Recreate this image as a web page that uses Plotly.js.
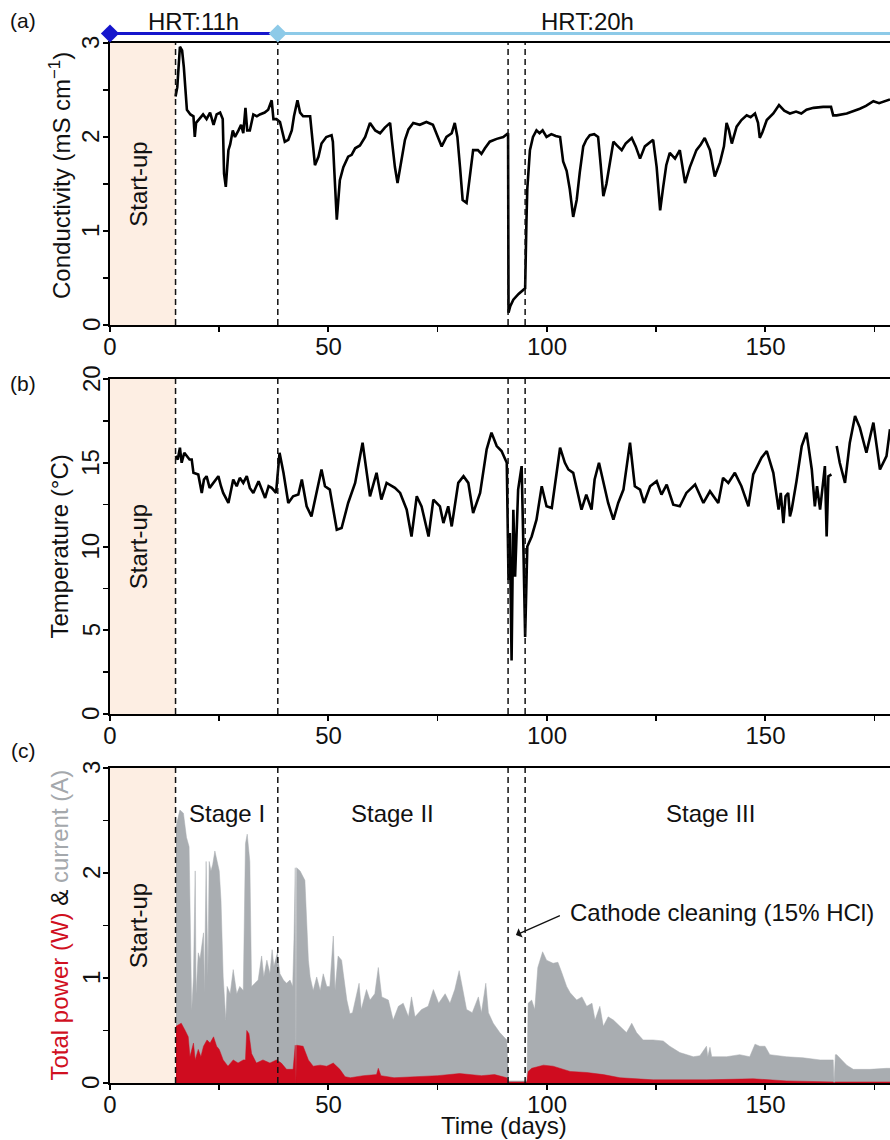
<!DOCTYPE html>
<html>
<head>
<meta charset="utf-8">
<script src="https://cdn.plot.ly/plotly-3.0.1.min.js"></script>
<style>html,body{margin:0;padding:0;background:#fff;overflow:hidden}</style>
</head>
<body>
<div id="chart" style="width:890px;height:1140px"></div>
<script>
// ---------------- DATA ----------------
// (a) Conductivity (mS cm-1)
const condDay = [15.0,15.4,16.0,16.5,16.9,17.6,18.4,19.1,19.4,19.7,20.6,21.3,22.1,22.9,23.7,24.4,25.2,25.8,26.1,26.5,27.1,27.5,28.1,28.6,29.4,30.0,30.5,31.0,31.4,32.0,32.8,33.6,34.3,35.4,36.2,37.0,37.4,38.1,38.9,40.0,40.8,41.6,42.1,42.9,43.5,44.2,45.8,46.4,46.9,47.7,48.4,49.5,50.7,51.0,51.5,51.9,52.6,53.4,54.5,55.3,56.1,57.2,58.4,59.5,60.7,61.8,62.9,64.1,64.5,65.2,65.8,66.7,67.5,68.3,69.4,70.9,72.4,73.9,75.1,75.9,77.0,78.2,78.9,79.5,80.1,80.7,81.6,82.4,83.1,84.2,85.0,85.8,86.9,88.5,90.0,91.1,91.2,91.6,92.3,93.5,95.0,95.3,95.5,96.1,96.8,97.6,98.3,99.0,99.9,101.0,102.0,103.0,103.4,103.7,104.5,105.2,106.0,106.8,107.5,108.3,109.0,109.8,110.8,111.7,112.3,112.9,113.6,114.4,115.2,116.0,117.1,118.0,119.4,120.3,121.3,122.4,123.3,124.3,125.1,125.6,125.9,126.6,127.3,128.1,129.3,130.4,131.0,131.6,132.7,134.2,135.2,136.1,137.3,138.0,138.4,139.6,140.5,141.1,141.6,142.3,143.4,144.5,145.7,146.6,147.6,148.3,148.7,149.3,150.3,151.8,153.1,154.3,155.6,157.0,158.2,159.4,161.0,163.2,165.0,165.5,166.3,168.6,170.0,171.6,173.0,174.7,176.0,178.5];
const condVal = [2.43,2.53,2.96,2.92,2.74,2.29,2.24,2.22,2.00,2.15,2.20,2.24,2.19,2.26,2.13,2.24,2.26,2.19,1.61,1.47,1.86,1.92,2.07,2.00,2.07,2.13,2.04,2.31,2.07,2.07,2.24,2.22,2.24,2.26,2.29,2.39,2.19,2.19,2.16,1.95,1.97,2.07,2.22,2.39,2.26,2.22,2.22,1.95,1.70,1.79,1.93,2.00,2.02,1.95,1.51,1.12,1.54,1.68,1.79,1.81,1.88,1.91,2.00,2.15,2.07,2.04,2.10,2.15,1.97,1.68,1.51,1.76,1.97,2.08,2.15,2.13,2.16,2.13,2.00,1.90,2.00,2.04,2.15,2.00,1.68,1.33,1.30,1.61,1.86,1.86,1.82,1.88,1.95,1.98,2.00,2.04,0.13,0.20,0.27,0.33,0.39,1.10,1.45,1.86,2.00,2.07,2.04,2.07,2.00,2.03,2.01,2.00,1.85,1.74,1.64,1.45,1.15,1.33,1.62,1.90,1.97,2.02,2.03,2.00,1.70,1.37,1.50,1.73,1.95,1.91,1.86,1.93,1.99,1.90,1.77,1.90,1.93,1.97,1.68,1.40,1.22,1.47,1.70,1.83,1.77,1.86,1.70,1.51,1.68,1.86,1.92,1.99,1.86,1.65,1.58,1.73,1.90,2.15,2.08,1.93,2.11,2.18,2.23,2.21,2.25,2.15,1.99,2.05,2.18,2.25,2.34,2.28,2.25,2.27,2.25,2.29,2.31,2.32,2.32,2.23,2.23,2.25,2.27,2.30,2.33,2.38,2.36,2.40];

// (b) Temperature (°C)
const tempDay = [15.0,15.5,16.0,16.4,17.0,17.5,18.2,18.7,19.1,20.2,21.0,21.5,22.1,22.8,23.6,24.2,24.8,25.4,25.9,27.1,28.2,29.0,29.7,30.5,31.3,32.0,32.8,34.0,34.8,35.5,36.3,37.0,38.0,38.8,39.7,40.8,41.9,43.1,43.9,45.0,46.1,46.9,48.4,49.2,50.3,51.9,53.0,54.5,56.1,57.8,58.7,59.5,61.0,62.1,63.3,65.2,66.4,67.9,69.0,70.2,71.3,72.9,74.0,75.5,76.3,77.4,78.2,79.7,80.9,82.0,83.1,84.7,86.2,87.3,88.5,89.6,90.8,91.2,91.5,91.9,92.3,92.7,93.4,94.2,94.6,95.0,95.5,96.5,97.6,98.8,99.9,101.1,103.0,104.1,104.9,106.0,107.9,109.0,110.2,110.9,111.9,112.9,114.0,115.2,116.3,117.5,119.0,120.1,121.3,122.2,123.6,125.1,126.2,127.4,128.9,130.4,131.9,133.9,135.8,137.3,139.2,140.3,141.5,143.0,144.5,146.1,147.2,149.1,150.3,151.8,152.5,153.0,153.5,154.1,154.6,155.2,155.6,156.0,157.1,158.3,159.4,160.6,161.3,161.8,162.5,163.0,163.6,164.0,164.4,165.1,165.8,166.3,167.0,168.2,169.3,170.5,171.6,173.1,174.7,176.2,177.7,178.5];
const tempVal = [15.4,15.2,15.9,15.0,15.6,15.4,15.2,15.2,14.4,14.3,13.2,14.0,14.2,13.5,13.8,14.0,14.2,13.6,13.2,12.6,14.0,13.6,14.1,13.8,14.2,13.5,13.2,13.9,13.3,12.9,13.6,13.5,13.2,15.6,14.4,12.6,13.0,13.1,14.0,12.4,11.8,12.8,14.6,13.6,13.4,11.0,11.1,12.6,13.8,16.2,14.4,13.0,14.4,12.8,13.8,13.5,13.2,12.2,10.6,13.0,12.4,10.6,12.8,12.4,11.4,12.4,11.2,13.8,14.2,13.8,12.0,13.2,15.8,16.8,16.0,15.7,15.0,8.0,10.8,3.2,12.2,8.2,13.4,14.8,10.0,4.6,10.0,10.6,11.6,13.6,12.4,12.3,15.9,15.0,14.6,14.4,12.2,13.1,12.2,14.0,15.0,13.8,12.6,11.6,12.6,13.4,16.2,13.6,13.4,12.6,13.6,13.9,13.1,13.7,12.5,12.4,13.2,13.7,12.6,13.3,12.6,14.1,13.8,14.4,13.6,12.4,14.3,15.3,15.7,14.4,13.0,12.2,13.2,11.4,13.0,13.2,11.8,12.2,13.9,16.0,16.8,14.6,12.4,13.6,12.2,13.4,14.8,10.6,14.2,14.3,null,16.0,15.0,13.8,16.2,17.8,17.1,15.6,17.4,14.6,15.4,17.0];

// (c) Current (A) – grey area
const currDay = [15.1,15.6,16.0,16.8,17.5,18.1,18.5,18.7,19.1,19.5,19.7,20.2,20.6,21.0,21.4,21.6,22.0,22.4,22.7,23.1,23.5,24.0,24.6,25.0,25.4,25.9,26.5,26.8,27.5,28.2,29.0,29.7,30.5,31.0,31.4,32.0,32.4,33.2,33.9,34.7,35.2,35.9,36.6,37.1,37.5,38.3,38.9,39.7,40.4,41.2,41.8,42.1,42.4,42.55,42.7,43.5,44.2,44.6,45.4,45.8,46.5,47.3,48.1,48.8,49.6,50.3,51.1,51.5,52.2,53.0,53.4,54.2,54.9,55.5,57.0,57.5,58.7,59.5,60.6,61.4,62.2,63.7,64.8,66.0,67.1,68.3,69.0,69.8,71.3,72.8,74.0,75.2,76.7,77.8,78.9,79.9,80.6,81.6,82.9,84.3,85.0,86.0,86.6,87.7,89.2,90.8,91.2,95.4,95.7,96.5,97.2,97.9,99.0,99.9,101.4,102.5,103.4,104.5,105.3,106.8,108.0,109.1,110.3,111.0,112.1,112.9,114.0,115.2,116.7,118.2,119.4,120.5,122.0,124.3,126.6,128.1,130.4,131.9,133.5,135.0,136.5,136.8,137.3,137.7,141.1,144.1,146.4,147.6,148.7,149.9,151.0,154.8,158.6,162.5,165.5,165.7,166.0,166.3,168.6,170.1,173.9,177.7,178.5];
const currVal = [2.44,2.55,2.60,2.57,2.34,2.25,1.01,0.69,1.01,2.02,0.85,1.24,1.18,1.30,1.43,0.85,2.11,1.01,2.11,2.02,2.08,2.21,2.11,2.02,1.74,1.01,0.60,0.92,0.85,1.08,0.85,0.92,0.88,2.28,2.37,2.11,0.92,0.95,0.98,1.21,1.01,1.17,1.04,1.27,1.11,1.24,1.04,0.98,0.95,0.98,0.92,1.37,2.05,0.00,2.05,2.02,1.97,1.93,1.17,1.01,0.88,1.01,0.88,1.04,0.92,0.92,1.40,0.88,1.21,1.17,1.04,0.79,0.66,0.67,0.95,0.70,0.89,0.79,0.85,1.10,0.82,0.79,0.60,0.73,0.76,0.63,0.82,0.63,0.70,0.73,0.89,0.76,0.85,0.76,0.89,1.07,0.92,0.70,0.67,0.82,0.67,0.95,0.67,0.57,0.48,0.41,0.02,0.02,0.76,0.79,0.70,1.10,1.25,1.17,1.14,1.15,1.05,0.92,0.86,0.79,0.82,0.73,0.76,0.60,0.73,0.54,0.63,0.60,0.54,0.48,0.57,0.48,0.41,0.41,0.40,0.35,0.29,0.27,0.25,0.26,0.35,0.25,0.34,0.25,0.25,0.27,0.25,0.37,0.35,0.35,0.27,0.25,0.24,0.22,0.22,0.00,0.27,0.27,0.17,0.13,0.13,0.14,0.14];

// (c) Total power (W) – red area
const powDay = [15.1,16.3,17.2,17.9,18.3,19.1,19.5,20.2,20.8,21.4,22.2,22.9,23.7,24.4,25.0,25.9,27.0,28.2,29.3,30.5,31.0,31.3,31.8,32.4,33.5,35.0,36.6,38.1,39.2,40.4,41.9,42.4,42.55,42.7,44.2,45.4,46.5,48.1,49.6,51.1,52.6,53.8,55.0,58.0,61.0,61.4,62.0,65.0,70.0,75.0,80.0,85.0,88.0,90.8,91.2,95.4,95.7,96.5,99.2,101.4,105.3,109.1,112.9,116.7,124.3,136.5,147.2,151.0,154.8,165.5,165.7,166.0,178.5];
const powVal = [0.54,0.57,0.50,0.44,0.25,0.38,0.22,0.32,0.25,0.35,0.41,0.38,0.44,0.35,0.32,0.22,0.16,0.22,0.19,0.22,0.22,0.50,0.47,0.28,0.19,0.22,0.19,0.22,0.19,0.13,0.13,0.36,0.00,0.36,0.35,0.22,0.16,0.17,0.16,0.19,0.13,0.06,0.05,0.07,0.08,0.14,0.07,0.05,0.06,0.07,0.09,0.07,0.08,0.05,0.01,0.01,0.11,0.14,0.17,0.16,0.11,0.10,0.08,0.05,0.03,0.03,0.04,0.03,0.02,0.01,0.00,0.01,0.01];

// Phases / events
const startupEnd = 15;
const stageBounds = [15, 38.4, 91.1, 95];
const stageLabels = ['Stage I','Stage II','Stage III'];
const stageSpans = [[15,38.4],[38.4,91.1],[95,180]];
const hrtStart = [0, 38.4];
const hrtEnd = [38.4, 180];
const hrtLabels = ['HRT:11h','HRT:20h'];
const hrtColors = ['#1616cc','#8dcae8'];
const xTicks = [0,50,100,150];
const yTicksA = [0,1,2,3];
const yTicksB = [0,5,10,15,20];
const yTicksC = [0,1,2,3];

// ---------------- LAYOUT ----------------
const FONT = 'Liberation Sans, Arial, Helvetica, sans-serif';
const TXT = '#111';
const xMax = 178.5;
const W = 890, L = 110, PW = W - L;
const domA = [0.7149, 0.9623], domB = [0.3737, 0.6675], domC = [0.05, 0.3263];

function xAxis(anchor) {
  return {
    anchor: anchor, domain: [0,1], range: [0, xMax],
    tickvals: xTicks, ticks: 'outside', ticklen: 5, tickwidth: 2, tickcolor: '#000',
    ticklabelstandoff: -6,
    showline: true, linecolor: '#000', linewidth: 2, mirror: true,
    showgrid: false, zeroline: false,
    minor: {dtick: 25, tick0: 0, ticks: 'outside', ticklen: 5, tickwidth: 1.5, tickcolor: '#000', showgrid: false},
    tickfont: {family: FONT, size: 24, color: TXT}
  };
}
function yAxis(anchor, dom, range, dtick, minor) {
  return {
    anchor: anchor, domain: dom, range: range, dtick: dtick, tick0: 0,
    ticks: 'outside', ticklen: 5, tickwidth: 2, tickcolor: '#000',
    showline: true, linecolor: '#000', linewidth: 2,
    showgrid: false, zeroline: false, showticklabels: false,
    minor: {dtick: minor, tick0: 0, ticks: 'outside', ticklen: 5, tickwidth: 1.5, tickcolor: '#000', showgrid: false}
  };
}

const traces = [
  {x: currDay, y: currVal, xaxis: 'x3', yaxis: 'y3', type: 'scatter', mode: 'lines',
   fill: 'tozeroy', fillcolor: '#a9adb1', line: {color: '#a9adb1', width: 0.5}, hoverinfo: 'skip'},
  {x: powDay, y: powVal, xaxis: 'x3', yaxis: 'y3', type: 'scatter', mode: 'lines',
   fill: 'tozeroy', fillcolor: '#cf0c1f', line: {color: '#cf0c1f', width: 0.5}, hoverinfo: 'skip'},
  {x: condDay, y: condVal, xaxis: 'x', yaxis: 'y', type: 'scatter', mode: 'lines',
   line: {color: '#000', width: 2.6}},
  {x: tempDay, y: tempVal, xaxis: 'x2', yaxis: 'y2', type: 'scatter', mode: 'lines',
   connectgaps: false, line: {color: '#000', width: 2.6}}
];
hrtStart.forEach((s, i) => {
  traces.push({x: [s, hrtEnd[i]], y: [0.5, 0.5], xaxis: 'x4', yaxis: 'y4', type: 'scatter',
    mode: 'lines', line: {color: hrtColors[i], width: 3}, hoverinfo: 'skip'});
});
traces.push({x: hrtStart, y: hrtStart.map(() => 0.5), xaxis: 'x4', yaxis: 'y4', type: 'scatter',
  mode: 'markers', cliponaxis: false,
  marker: {symbol: 'diamond', size: 14, color: hrtColors, line: {width: 0}}, hoverinfo: 'skip'});

const shapes = [];
const annotations = [];
const panels = [
  {xa: 'x', ya: 'y', ticks: yTicksA, title: 'Conductivity (mS cm<sup>−1</sup>)', tshift: 8},
  {xa: 'x2', ya: 'y2', ticks: yTicksB, title: 'Temperature (°C)', tshift: 0},
  {xa: 'x3', ya: 'y3', ticks: yTicksC,
   title: '<span style="color:#d0101f">Total power (W)</span> &amp; <span style="color:#a4a8ac">current (A)</span>', tshift: 0}
];
panels.forEach(p => {
  shapes.push({type: 'rect', xref: p.xa, yref: p.ya + ' domain', x0: 0, x1: startupEnd, y0: 0, y1: 1,
    fillcolor: '#fdeee3', line: {width: 0}, layer: 'below'});
  stageBounds.forEach(d => shapes.push({type: 'line', xref: p.xa, yref: p.ya + ' domain', x0: d, x1: d, y0: 0, y1: 1,
    line: {color: '#111', width: 1.5, dash: '6px,4px'}, layer: 'above'}));
  annotations.push({xref: p.xa, yref: p.ya + ' domain', x: startupEnd / 2, y: 0.5, xshift: -4,
    text: 'Start-up', textangle: -90, showarrow: false, font: {family: FONT, size: 24, color: TXT}});
  p.ticks.forEach(v => annotations.push({xref: 'paper', yref: p.ya, x: -19 / PW, y: v,
    xanchor: 'center', yanchor: 'middle', text: String(v), textangle: -90, showarrow: false,
    font: {family: FONT, size: 24, color: TXT}}));
  annotations.push({xref: 'paper', yref: p.ya + ' domain', x: -50 / PW, y: 0.5, yshift: p.tshift,
    xanchor: 'center', yanchor: 'middle', text: p.title, textangle: -90, showarrow: false,
    font: {family: FONT, size: 24, color: TXT}});
});
annotations.push({xref: 'paper', yref: 'paper', x: 0.505, y: 1 - 1125 / 1140, xanchor: 'center', yanchor: 'middle',
  text: 'Time (days)', showarrow: false, font: {family: FONT, size: 24, color: TXT}});
[['(a)', 1 - 20/1140], ['(b)', 1 - 384/1140], ['(c)', 1 - 750/1140]].forEach(([t, yy]) => {
  annotations.push({xref: 'paper', yref: 'paper', x: (23 - L) / PW, y: yy, text: t, showarrow: false,
    xanchor: 'center', yanchor: 'middle', font: {family: FONT, size: 21, color: TXT}});
});
hrtLabels.forEach((t, i) => {
  annotations.push({xref: 'x4', yref: 'y4', x: (hrtStart[i] + hrtEnd[i]) / 2, y: 0.5, yshift: 12,
    yanchor: 'middle', text: t, showarrow: false, font: {family: FONT, size: 24, color: TXT}});
});
stageLabels.forEach((t, i) => {
  annotations.push({xref: 'x3', yref: 'y3 domain', x: (stageSpans[i][0] + stageSpans[i][1]) / 2, y: 0.905,
    text: t, showarrow: false, font: {family: FONT, size: 24, color: TXT}});
});
annotations.push({xref: 'x3', yref: 'y3', x: 104.8, y: 1.62, xanchor: 'left', text: 'Cathode cleaning (15% HCl)',
  showarrow: false, font: {family: FONT, size: 24, color: TXT}});
annotations.push({xref: 'x3', yref: 'y3', axref: 'x3', ayref: 'y3', x: 92.9, y: 1.41, ax: 103.3, ay: 1.60,
  text: '', showarrow: true, arrowhead: 1, arrowsize: 1.3, arrowwidth: 1.3, arrowcolor: '#111'});

const layout = {
  width: W, height: 1140,
  margin: {l: L, r: 0, t: 0, b: 0},
  paper_bgcolor: '#fff', plot_bgcolor: 'rgba(0,0,0,0)',
  showlegend: false,
  font: {family: FONT, color: TXT},
  xaxis: xAxis('y'),
  xaxis2: xAxis('y2'),
  xaxis3: xAxis('y3'),
  xaxis4: {anchor: 'y4', domain: [0,1], range: [0, xMax], visible: false, matches: 'x'},
  yaxis: yAxis('x', domA, [0,3], 1, 0.5),
  yaxis2: yAxis('x2', domB, [0,20], 5, 2.5),
  yaxis3: yAxis('x3', domC, [0,3], 1, 0.5),
  yaxis4: {anchor: 'x4', domain: [0.9606, 0.9806], range: [0,1], visible: false},
  shapes: shapes,
  annotations: annotations
};

Plotly.newPlot('chart', traces, layout, {displayModeBar: false, staticPlot: true});
</script>
</body>
</html>
